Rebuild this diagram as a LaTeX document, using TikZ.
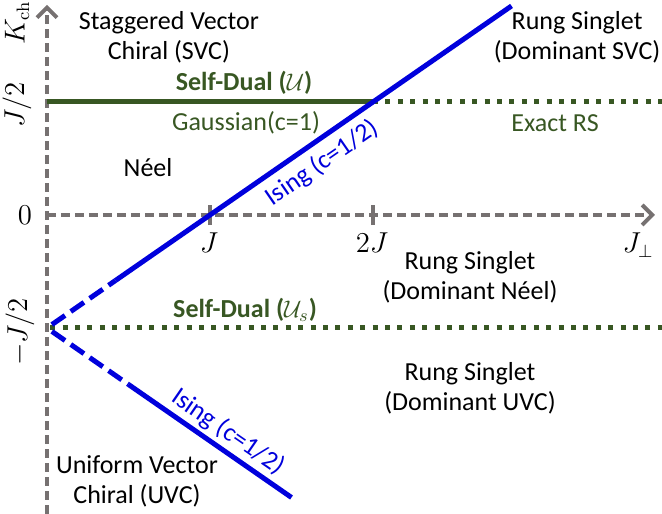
\documentclass[tikz,border=0pt]{standalone}
\usepackage[no-math]{fontspec}
\setmainfont{Carlito}
\usetikzlibrary{arrows.meta}

\definecolor{axisGray}{RGB}{118,113,113}
\definecolor{dualGreen}{RGB}{56,87,35}
\definecolor{isingBlue}{RGB}{0,0,220}

\begin{document}
\begin{tikzpicture}[x=81.5pt, y=113pt,
    axisStyle/.style={draw=axisGray, line width=2pt, dash pattern=on 4.5pt off 2.5pt, -{Straight Barb[length=5pt, width=10pt, line width=2pt]}},
    tickStyle/.style={draw=axisGray, line width=2pt},
    isingStyle/.style={draw=isingBlue, line width=2.5pt},
    isingDashStyle/.style={isingStyle, dash pattern=on 8pt off 3.5pt},
    dualStyle/.style={draw=dualGreen, line width=2.5pt},
    dualDotStyle/.style={dualStyle, dash pattern=on 2.5pt off 3.7pt},
    phaseStyle/.style={align=center, font=\fontsize{13}{15}\selectfont, inner sep=0pt},
    greenStyle/.style={phaseStyle, text=dualGreen},
    greenBoldStyle/.style={greenStyle, font=\fontsize{13}{15}\selectfont\bfseries},
    blueStyle/.style={phaseStyle, text=isingBlue},
    mathStyle/.style={font=\fontsize{13.5}{15}\selectfont, inner sep=0pt}]
    \useasboundingbox (-0.2883,-1.323) rectangle (3.773,0.9513);

    % axes
    \coordinate (orig)  at (0,0);
    \coordinate (yBot)  at (0,-1.323);
    \coordinate (yTop)  at (0,0.93);
    \coordinate (xEnd)  at (3.73,0);
    \draw[axisStyle] (yBot) -- (yTop);
    \draw[axisStyle] (orig) -- (xEnd);

    \coordinate (tick1_b) at (1,-0.045);
    \coordinate (tick1_t) at (1, 0.045);
    \coordinate (tick2_b) at (2,-0.045);
    \coordinate (tick2_t) at (2, 0.045);
    \draw[tickStyle] (tick1_b) -- (tick1_t);
    \draw[tickStyle] (tick2_b) -- (tick2_t);

    % self-dual lines
    \coordinate (dualU_0) at (0,0.5);
    \coordinate (dualU_1) at (2,0.5);
    \coordinate (dualU_2) at (3.773,0.5);
    \coordinate (dualS_0) at (0.02,-0.5);
    \coordinate (dualS_1) at (3.773,-0.5);
    \draw[dualStyle] (dualU_0) -- (dualU_1);
    \draw[dualDotStyle] (dualU_1) -- (dualU_2);
    \draw[dualDotStyle] (dualS_0) -- (dualS_1);

    % Ising lines
    \coordinate (isUp_0)  at (0.03,-0.485);
    \coordinate (isUp_1)  at (0.42,-0.29);
    \coordinate (isUp_2)  at (2.85,0.925);
    \coordinate (isLow_0) at (0.03,-0.515);
    \coordinate (isLow_1) at (0.5,-0.75);
    \coordinate (isLow_2) at (1.5,-1.25);
    \draw[isingDashStyle] (isUp_0) -- (isUp_1);
    \draw[isingStyle] (isUp_1) -- (isUp_2);
    \draw[isingDashStyle] (isLow_0) -- (isLow_1);
    \draw[isingStyle] (isLow_1) -- (isLow_2);

    % axis labels
    \node[mathStyle, rotate=90] (lab_K)  at (-0.184, 0.850) {$K_{\mathrm{ch}}$};
    \node[mathStyle, rotate=90] (lab_h)  at (-0.184, 0.487) {$J/2$};
    \node[mathStyle]            (lab_0)  at (-0.135, 0)     {$0$};
    \node[mathStyle, rotate=90] (lab_mh) at (-0.166,-0.518) {$-J/2$};
    \node[mathStyle] (lab_J)  at (0.994,-0.124) {$J$};
    \node[mathStyle] (lab_2J) at (1.994,-0.124) {$2J$};
    \node[mathStyle] (lab_Jp) at (3.626,-0.133) {$J_\perp$};

    % phases
    \node[phaseStyle] (svc)    at (0.748, 0.785) {Staggered Vector\\Chiral (SVC)};
    \node[phaseStyle] (rsSvc)  at (3.252, 0.788) {Rung Singlet\\(Dominant SVC)};
    \node[phaseStyle] (neel)   at (0.620, 0.212) {Néel};
    \node[phaseStyle] (rsNeel) at (2.595,-0.274) {Rung Singlet\\(Dominant Néel)};
    \node[phaseStyle] (rsUvc)  at (2.595,-0.765) {Rung Singlet\\(Dominant UVC)};
    \node[phaseStyle] (uvc)    at (0.552,-1.177) {Uniform Vector\\Chiral (UVC)};

    % line labels
    \node[greenBoldStyle] (selfU) at (1.209, 0.584) {Self-Dual ($\mathcal{U}$)};
    \node[greenStyle]     (gauss) at (1.221, 0.407) {Gaussian(c=1)};
    \node[greenStyle]     (exRS)  at (3.117, 0.407) {Exact RS};
    \node[greenBoldStyle] (selfS) at (1.215,-0.420) {Self-Dual ($\mathcal{U}_s$)};
    \node[blueStyle, rotate=34.6]  (isUpLab)  at (1.687, 0.230) {Ising (c=1/2)};
    \node[blueStyle, rotate=-34.6] (isLowLab) at (1.110,-0.960) {Ising (c=1/2)};
\end{tikzpicture}
\end{document}
